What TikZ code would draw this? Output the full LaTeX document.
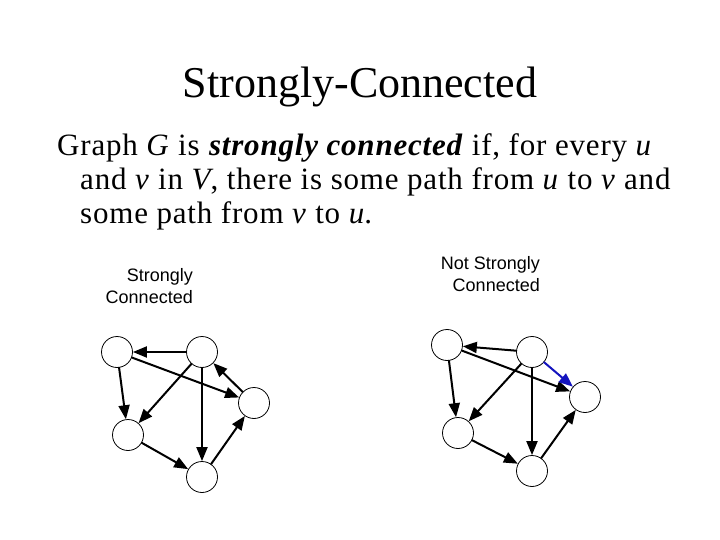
\documentclass[tikz,border=0pt]{standalone}
\usepackage{fontspec}
\setmainfont{Liberation Serif}
\setsansfont{Liberation Sans}
\usepackage{xcolor}
\usetikzlibrary{arrows.meta,positioning}
\definecolor{pathblue}{RGB}{20,20,190}
\tikzset{
  vtx/.style={circle, draw, line width=0.8pt, minimum size=31pt, inner sep=0pt},
  arr/.style={line width=2pt, -{Triangle[length=14pt,width=11pt]}},
  lbl/.style={font=\sffamily\fontsize{18}{22}\selectfont, align=right, inner sep=0pt},
  every picture/.style={line cap=round, line join=round}
}

\begin{document}
\begin{tikzpicture}[x=1pt,y=-1pt]
    \useasboundingbox (0,0) rectangle (720,540);

    \node[font=\fontsize{44}{53}\selectfont, anchor=base, inner sep=0pt] (title) at (360,98) {Strongly-Connected};

    \node[font=\fontsize{31}{34}\selectfont\addfontfeature{LetterSpace=2.6}, anchor=base west, align=left, inner sep=0pt] (def) at (57,223)
      {Graph \textit{G} is \textbf{\textit{strongly connected}} if, for every \textit{u}\\
       \hspace*{23pt}and \textit{v} in \textit{V}, there is some path from \textit{u} to \textit{v} and\\
       \hspace*{23pt}some path from \textit{v} to \textit{u}.};

    \node[lbl, anchor=base east] (lefttxt) at (193,303) {Strongly\\Connected};
    \node[lbl, anchor=base east] (righttxt) at (540,291) {Not Strongly\\Connected};

    % strongly connected
    \foreach \name/\x/\y in {la/117/352, lb/202/352, lc/254/403, ld/128/435, le/202/477}
    {
      \node[vtx] (\name) at (\x,\y) {};
    }
    \draw[arr] (lb)--(la);
    \draw[arr] (la)--(ld);
    \draw[arr] (la)--(lc);
    \draw[arr] (lb)--(ld);
    \draw[arr] (lb)--(le);
    \draw[arr] (lc)--(lb);
    \draw[arr] (ld)--(le);
    \draw[arr] (le)--(lc);

    % not strongly connected
    \foreach \name/\x/\y in {ra/447/345, rb/532/352, rc/585/397, rd/458/433, re/532/471}
    {
      \node[vtx] (\name) at (\x,\y) {};
    }
    \draw[arr] (rb)--(ra);
    \draw[arr] (ra)--(rd);
    \draw[arr] (ra)--(rc);
    \draw[arr] (rb)--(rd);
    \draw[arr] (rb)--(re);
    \draw[arr, pathblue] (rb)--(rc);
    \draw[arr] (rd)--(re);
    \draw[arr] (re)--(rc);
  \end{tikzpicture}
\end{document}
